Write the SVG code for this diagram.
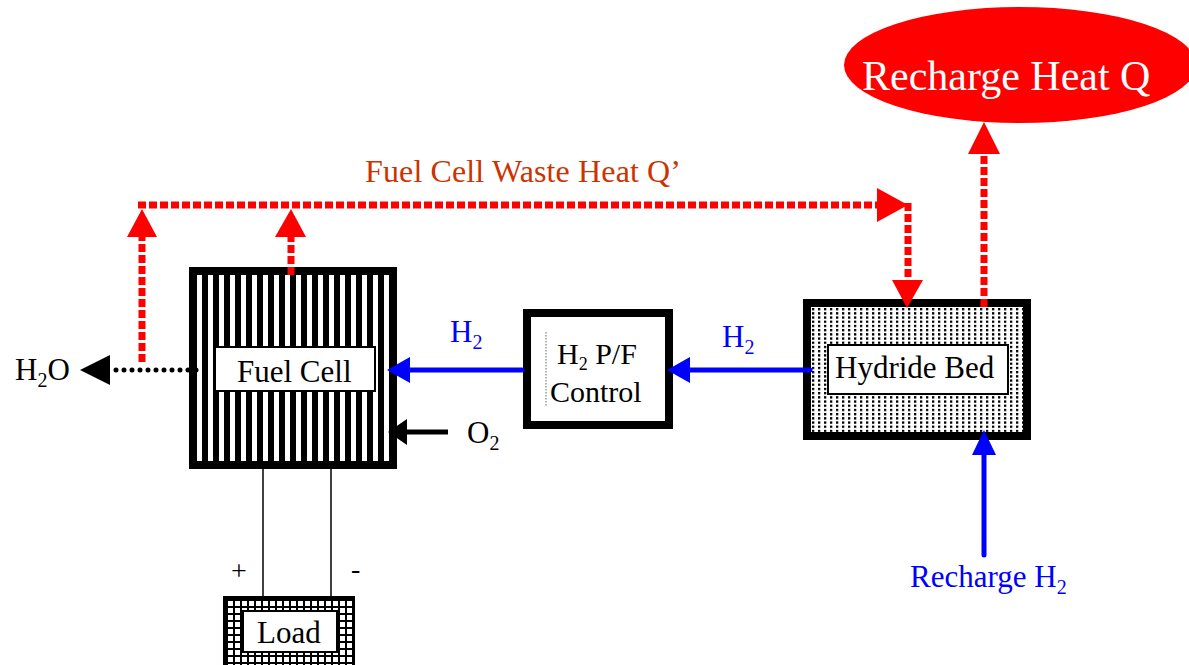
<svg xmlns="http://www.w3.org/2000/svg" width="1189" height="665" viewBox="0 0 1189 665">
<defs>
  <style>
    text { font-family: "Liberation Serif", "Times New Roman", serif; font-size: 31px; fill: #000; }
    .blue { fill: #0000FF; }
    .red { fill: #CC3300; }
    .white { fill: #FFFFFF; }
    .sub { font-size: 20px; }
    .heat { fill: none; stroke: #FF0000; stroke-width: 7; stroke-dasharray: 8 3; }
    .heatHead { fill: #FF0000; }
    .h2 { fill: none; stroke: #0000FF; stroke-width: 5; stroke-linecap: round; }
    .h2Head { fill: #0000FF; }
    .blk { fill: none; stroke: #000; stroke-width: 5; }
    .dots { fill: none; stroke: #000; stroke-width: 5; stroke-linecap: round; stroke-dasharray: 0 8; }
    .wire { fill: none; stroke: #000; stroke-width: 1.5; }
    .frame { stroke: #000; stroke-width: 8; }
    .label { fill: #FFFFFF; stroke: #000; stroke-width: 2; }
  </style>
  <pattern id="stripes" x="197" y="0" width="11" height="11" patternUnits="userSpaceOnUse">
    <rect width="11" height="11" fill="#FFFFFF"/>
    <rect x="5" width="6" height="11" fill="#000"/>
  </pattern>
  <pattern id="dotfill" x="812" y="308" width="6" height="4.2" patternUnits="userSpaceOnUse">
    <rect width="6" height="4.2" fill="#FFFFFF"/>
    <rect width="2.3" height="2.3" fill="#000"/>
  </pattern>
  <pattern id="grid" x="226" y="599" width="7" height="7" patternUnits="userSpaceOnUse">
    <rect width="7" height="7" fill="#000"/>
    <rect x="2" y="2" width="5" height="5" fill="#FFFFFF"/>
  </pattern>
</defs>

<rect width="1189" height="665" fill="#FFFFFF"/>

<g id="recharge-heat">
  <ellipse cx="1020" cy="65" rx="176" ry="58" fill="#FF0000"/>
  <text class="white" x="862" y="90" style="font-size:42px">Recharge Heat Q</text>
</g>

<g id="fuel-cell">
  <rect class="frame" x="193" y="271" width="200" height="194" fill="url(#stripes)"/>
  <rect class="label" x="215" y="347" width="160" height="44" stroke-width="1.5"/>
  <text x="237" y="382">Fuel Cell</text>
</g>

<g id="h2-control">
  <rect class="frame" x="527" y="313" width="142" height="112" fill="#FFFFFF"/>
  <line x1="546" y1="332" x2="546" y2="407" stroke="#666" stroke-width="1" stroke-dasharray="1.5 1.5"/>
  <text x="557" y="364" style="font-size:30px">H<tspan style="font-size:18px" dy="6">2</tspan><tspan dy="-6"> P/F</tspan></text>
  <text x="550" y="402" style="font-size:30px">Control</text>
</g>

<g id="hydride-bed">
  <rect class="frame" x="807" y="303" width="220" height="133" fill="url(#dotfill)"/>
  <rect class="label" x="828" y="345" width="180" height="49"/>
  <text x="835" y="378">Hydride Bed</text>
</g>

<g id="load">
  <rect x="224.5" y="597.5" width="129" height="75" fill="url(#grid)" stroke="#000" stroke-width="3"/>
  <rect class="label" x="243" y="611" width="94" height="41"/>
  <text x="257" y="643">Load</text>
</g>

<g id="connectors">
  <path class="heat" d="M138,205 H878"/>
  <polygon class="heatHead" points="877,188 908,205 877,222"/>
  <path class="heat" d="M908,203 V280"/>
  <polygon class="heatHead" points="892,280 923,280 907,308"/>
  <path class="heat" d="M142,362 V237"/>
  <polygon class="heatHead" points="127,237 157,237 142,209"/>
  <path class="heat" d="M291,275 V237"/>
  <polygon class="heatHead" points="275,237 306,237 291,209"/>
  <path class="heat" d="M984,307 V154"/>
  <polygon class="heatHead" points="968,154 1000,154 984,122"/>
  <path class="h2" d="M810,370 H690"/>
  <polygon class="h2Head" points="690,357 690,383 667,370"/>
  <path class="h2" d="M522,370 H410"/>
  <polygon class="h2Head" points="410,357 410,383 387,370"/>
  <path class="h2" d="M984,555 V455"/>
  <polygon class="h2Head" points="972,455 996,455 984,430"/>
  <path class="blk" d="M448,432 H407"/>
  <polygon points="407,419 407,445 388,432" fill="#000"/>
  <path class="dots" d="M196,370 H112"/>
  <polygon points="110,355 110,385 80,370" fill="#000"/>
  <path class="wire" d="M263,469 V597"/>
  <path class="wire" d="M331,469 V597"/>
</g>

<g id="labels">
  <text class="red" x="365" y="182" style="font-size:32px" textLength="316" lengthAdjust="spacing">Fuel Cell Waste Heat Q’</text>
  <text class="blue" x="450" y="342">H<tspan class="sub" dy="7">2</tspan></text>
  <text class="blue" x="722" y="347">H<tspan class="sub" dy="7">2</tspan></text>
  <text x="467" y="443">O<tspan class="sub" dy="7">2</tspan></text>
  <text x="15" y="380">H<tspan class="sub" dy="7">2</tspan><tspan dy="-7">O</tspan></text>
  <text class="blue" x="910" y="587">Recharge H<tspan class="sub" dy="7">2</tspan></text>
  <text x="231" y="580" style="font-size:28px">+</text>
  <text x="351" y="578" style="font-size:28px">-</text>
</g>
</svg>
